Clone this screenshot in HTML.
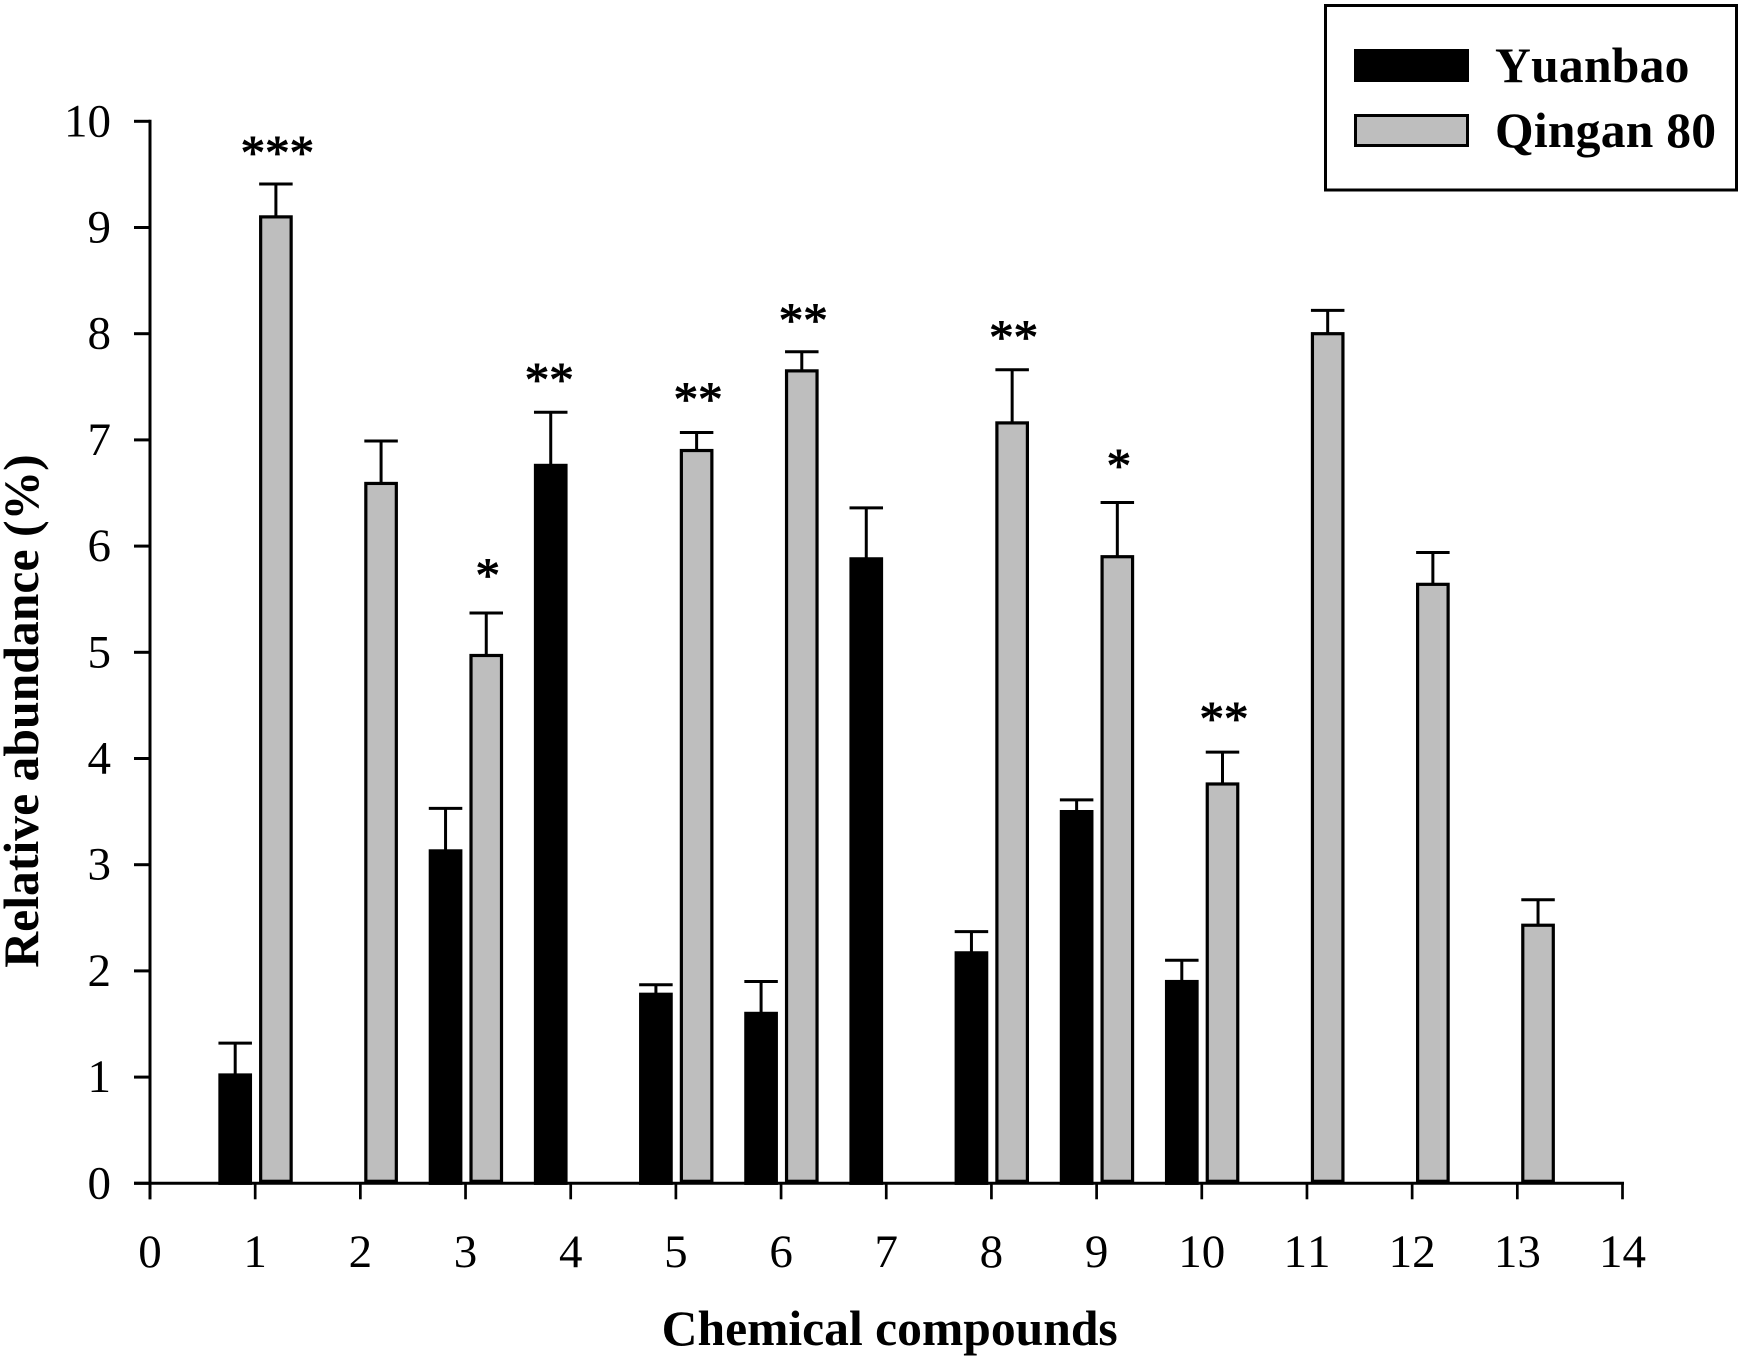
<!DOCTYPE html>
<html>
<head>
<meta charset="utf-8">
<title>Relative abundance of chemical compounds</title>
<style>
html,body{margin:0;padding:0;background:#fff;}
svg{display:block;font-family:"Liberation Serif",serif;font-kerning:none;}
</style>
</head>
<body>
<svg id="chart" xmlns="http://www.w3.org/2000/svg" width="1744" height="1360" viewBox="0 0 1744 1360">
  <rect x="0" y="0" width="1744" height="1360" fill="#ffffff"/>
  <g id="bars"></g>
  <g id="axes"></g>
  <g id="stars"></g>
  <text transform="translate(38,711) rotate(-90)" text-anchor="middle" font-size="49.7" font-weight="bold">Relative abundance (%)</text>
  <text x="889.7" y="1345" text-anchor="middle" font-size="49.6" font-weight="bold">Chemical compounds</text>
  <g>
    <rect x="1325.5" y="5.5" width="411" height="184.5" fill="#ffffff" stroke="#000000" stroke-width="3"/>
    <rect x="1354" y="49" width="115" height="33" fill="#000000"/>
    <text x="1495" y="82" font-size="49.6" font-weight="bold" letter-spacing="0.25">Yuanbao</text>
    <rect x="1355.5" y="115.5" width="112" height="30" fill="#bebebe" stroke="#000000" stroke-width="3"/>
    <text x="1495" y="147" font-size="49.6" font-weight="bold" letter-spacing="0.25">Qingan 80</text>
  </g>
</svg>
<script>
const compounds = [1, 2, 3, 4, 5, 6, 7, 8, 9, 10, 11, 12, 13];
const yuanbaoValues = [1.02, null, 3.13, 6.76, 1.78, 1.6, 5.88, 2.17, 3.5, 1.9, null, null, null];
const yuanbaoErrorTops = [1.32, null, 3.53, 7.26, 1.87, 1.9, 6.36, 2.37, 3.61, 2.1, null, null, null];
const qinganValues = [9.1, 6.59, 4.97, null, 6.9, 7.65, null, 7.16, 5.9, 3.76, 8.0, 5.64, 2.43];
const qinganErrorTops = [9.41, 6.99, 5.37, null, 7.07, 7.83, null, 7.66, 6.41, 4.06, 8.22, 5.94, 2.67];
const significance = ['***', '', '*', '**', '**', '**', '', '**', '*', '**', '', '', ''];
const significanceLevels = [9.74, null, 5.76, 7.6, 7.42, 8.16, null, 8.0, 6.79, 4.41, null, null, null];
const xTickLabels = [0, 1, 2, 3, 4, 5, 6, 7, 8, 9, 10, 11, 12, 13, 14];
const yTickLabels = [0, 1, 2, 3, 4, 5, 6, 7, 8, 9, 10];

const NS = 'http://www.w3.org/2000/svg';
function xScale(v) { return 150 + v * (1622.5 - 150) / 14; }
function yScale(v) { return 1183.3 - v * 106.2; }
const YUANBAO_OFFSET = 0.19;
const QINGAN_OFFSET = 0.197;
const BAR_WIDTH = 0.29;

function make(tag, parent, attrs, text) {
  const el = document.createElementNS(NS, tag);
  for (const k in attrs) el.setAttribute(k, attrs[k]);
  if (text !== undefined) el.textContent = text;
  parent.appendChild(el);
  return el;
}

const barsG = document.getElementById('bars');
const axesG = document.getElementById('axes');
const starsG = document.getElementById('stars');
const barPx = BAR_WIDTH * (xScale(1) - xScale(0));
const capHalf = barPx / 2 + 1.5;

compounds.forEach(function (c, i) {
  const yv = yuanbaoValues[i];
  if (yv !== null) {
    const cx = xScale(c - YUANBAO_OFFSET);
    const stem = make('line', barsG, { x1: cx, x2: cx, y1: yScale(yv), y2: yScale(yuanbaoErrorTops[i]), stroke: '#000', 'stroke-width': 3 });
    
    
    const cap = make('line', barsG, { x1: cx - capHalf, x2: cx + capHalf, y1: yScale(yuanbaoErrorTops[i]), y2: yScale(yuanbaoErrorTops[i]), stroke: '#000', 'stroke-width': 3 });
    
    
    const bar = make('rect', barsG, { x: cx - barPx / 2, y: yScale(yv), width: barPx, height: yScale(0) - yScale(yv), fill: '#000', stroke: '#000', 'stroke-width': 3.2 });
    
    
  }
  const qv = qinganValues[i];
  if (qv !== null) {
    const cx = xScale(c + QINGAN_OFFSET);
    const stem = make('line', barsG, { x1: cx, x2: cx, y1: yScale(qv), y2: yScale(qinganErrorTops[i]), stroke: '#000', 'stroke-width': 3 });
    
    
    const cap = make('line', barsG, { x1: cx - capHalf, x2: cx + capHalf, y1: yScale(qinganErrorTops[i]), y2: yScale(qinganErrorTops[i]), stroke: '#000', 'stroke-width': 3 });
    
    
    const bar = make('rect', barsG, { x: cx - barPx / 2, y: yScale(qv), width: barPx, height: yScale(0) - yScale(qv) - 2, fill: '#bebebe', stroke: '#000', 'stroke-width': 3.2 });
    
    
  }
  if (significance[i]) {
    const onYuanbao = qv === null;
    const sx = onYuanbao ? xScale(c - YUANBAO_OFFSET) - 1.5 : xScale(c + QINGAN_OFFSET) + 1.5;
    const star = make('text', starsG, { x: sx, y: yScale(significanceLevels[i]) + 20, 'text-anchor': 'middle', 'font-size': 49, stroke: '#000', 'stroke-width': 1 }, significance[i]);
    
    
  }
});

const xAxisLine = make('line', axesG, { x1: xScale(0) - 16, x2: xScale(14) + 1.5, y1: yScale(0), y2: yScale(0), stroke: '#000', 'stroke-width': 3 });


const yAxisLine = make('line', axesG, { x1: xScale(0), x2: xScale(0), y1: yScale(10) - 1.5, y2: yScale(0) + 16, stroke: '#000', 'stroke-width': 3 });



xTickLabels.forEach(function (t) {
  const tick = make('line', axesG, { x1: xScale(t), x2: xScale(t), y1: yScale(0), y2: yScale(0) + 16, stroke: '#000', 'stroke-width': 2.7 });
  
  
  const label = make('text', axesG, { x: xScale(t), y: 1267, 'text-anchor': 'middle', 'font-size': 47 }, String(t));
  
  
});

yTickLabels.forEach(function (t) {
  const tick = make('line', axesG, { x1: xScale(0) - 16, x2: xScale(0), y1: yScale(t), y2: yScale(t), stroke: '#000', 'stroke-width': 3 });
  
  
  const label = make('text', axesG, { x: 111, y: yScale(t) + 15, 'text-anchor': 'end', 'font-size': 47 }, String(t));
  
  
});
</script>
</body>
</html>
